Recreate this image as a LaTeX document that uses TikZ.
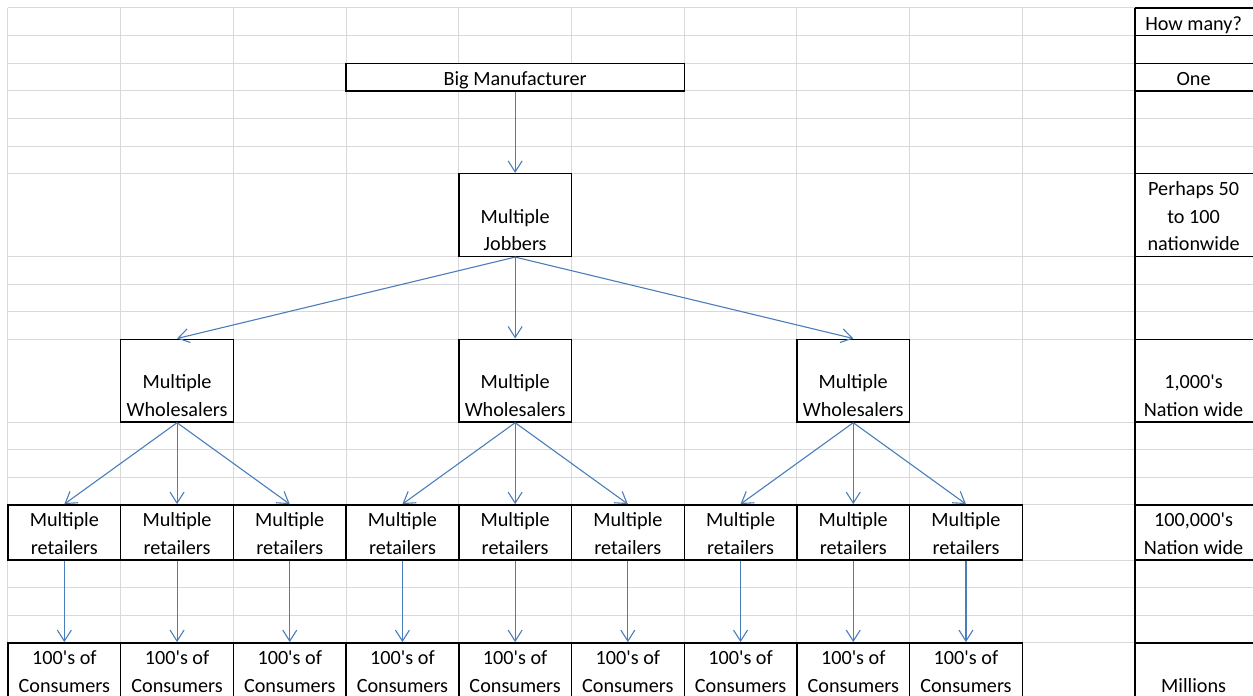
\documentclass[tikz,border=0pt]{standalone}
\usepackage{fontspec}
\setmainfont{Carlito}
\usepackage{tikz}
\usetikzlibrary{arrows.meta}
\definecolor{cGrid}{HTML}{D9D9D9}
\definecolor{cFlow}{HTML}{4A7EBB}
\newcommand{\rowtext}[1]{\rule[-5.5pt]{0pt}{27.6pt}#1}
\newcommand{\cellfont}{\fontsize{20.2pt}{27.6pt}\selectfont}
\tikzset{
  >={Straight Barb[length=11pt,width=14pt]},
  grid lines/.style={cGrid,line width=1pt},
  border/.style ={black,line width=1.4pt},
  cellbox/.style={draw=black,line width=1.4pt,fill=white,inner sep=0pt,
                  minimum width=112.7pt,align=center,font=\cellfont},
  note/.style   ={inner sep=0pt,align=center,font=\cellfont},
  flow/.style   ={->,cFlow,line width=1.1pt},
}
\begin{document}
\begin{tikzpicture}[x=112.7pt,y=-27.6pt]
  \useasboundingbox (-8pt,8pt) rectangle (1245pt,-688pt);
  \foreach \c in {0,...,10} \draw[grid lines] (\c,0) -- (\c,24.93);
  \foreach \r in {0,1,2,3,4,5,6,9,10,11,12,15,16,17,18,20,21,22,23}
    \draw[grid lines] (0,\r) -- (11.05,\r);

  \node[cellbox,minimum width=338.1pt] (maker) at (4.5,2.5) {\rowtext{Big Manufacturer}};
  \node[cellbox] (jobbers) at (4.5,7.5) {\rowtext{}\\\rowtext{Multiple}\\\rowtext{Jobbers}};
  \foreach \i/\c in {1/1.5,2/4.5,3/7.5}
    \node[cellbox] (whole\i) at (\c,13.5) {\rowtext{}\\\rowtext{Multiple}\\\rowtext{Wholesalers}};
  \foreach \i in {1,...,9} {
    \node[cellbox] (retail\i) at ({\i-0.5},19) {\rowtext{Multiple}\\\rowtext{retailers}};
    \node[cellbox] (cons\i) at ({\i-0.5},24) {\rowtext{100\textquotesingle s of}\\\rowtext{Consumers}};
  }

  \draw[border] (10,0) -- (10,24.93);
  \foreach \r in {0,1,2,3,6,9,12,15,18,20,23}
    \draw[border] (10,\r) -- (11.05,\r);
  \node[note] (howmany) at (10.52,0.5) {\rowtext{How many?}};
  \node[note] (one) at (10.52,2.5) {\rowtext{One}};
  \node[note] (fifty) at (10.52,7.5) {\rowtext{Perhaps 50}\\\rowtext{to 100}\\\rowtext{nationwide}};
  \node[note] (thousands) at (10.52,14) {\rowtext{1,000\textquotesingle s}\\\rowtext{Nation wide}};
  \node[note] (hundredk) at (10.52,19) {\rowtext{100,000\textquotesingle s}\\\rowtext{Nation wide}};
  \node[note] (millions) at (10.52,24.5) {\rowtext{Millions}};

  \draw[flow] (maker.south) -- (jobbers.north);
  \foreach \i in {1,2,3} \draw[flow] (jobbers.south) -- (whole\i.north);
  \foreach \i in {1,...,9} {
    \pgfmathtruncatemacro{\w}{(\i+2)/3}
    \draw[flow] (whole\w.south) -- (retail\i.north);
    \draw[flow] (retail\i.south) -- (cons\i.north);
  }
\end{tikzpicture}
\end{document}
